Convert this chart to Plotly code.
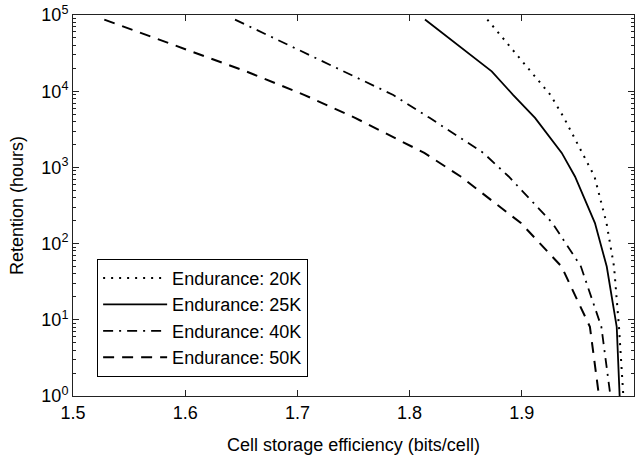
import plotly.graph_objects as go

# Retention (hours) levels
retention = [87100, 18200, 8900, 4470, 1550, 760, 186, 50, 8.1, 1]

# Cell storage efficiency (bits/cell) per endurance level
eff_20k = [1.8693, 1.9082, 1.9256, 1.9376, 1.9537, 1.9648, 1.9755, 1.9822, 1.9866, 1.9905]
eff_25k = [1.8137, 1.8732, 1.8924, 1.9118, 1.9356, 1.9474, 1.9652, 1.9757, 1.9846, 1.9872]
eff_40k = [1.6444, 1.7420, 1.7855, 1.8178, 1.8657, 1.8883, 1.9273, 1.9527, 1.9709, 1.9790]
eff_50k = [1.5279, 1.6542, 1.7064, 1.7514, 1.8131, 1.8455, 1.8992, 1.9354, 1.9607, 1.9688]

series_names = ["Endurance: 20K", "Endurance: 25K", "Endurance: 40K", "Endurance: 50K"]

x_tickvals = [1.5, 1.6, 1.7, 1.8, 1.9, 2.0]
x_ticktext = ["1.5", "1.6", "1.7", "1.8", "1.9", "2"]
y_tickvals = [1, 10, 100, 1000, 10000, 100000]
y_ticktext = ["10<sup>0</sup>", "10<sup>1</sup>", "10<sup>2</sup>", "10<sup>3</sup>",
              "10<sup>4</sup>", "10<sup>5</sup>"]

FONT = "'Liberation Sans', Arial, sans-serif"
styles = [
    dict(color="black", width=2, dash="2px,6px"),
    dict(color="black", width=1.8, dash="solid"),
    dict(color="black", width=1.8, dash="10px,6px,2px,6px"),
    dict(color="black", width=2, dash="11px,8px"),
]

fig = go.Figure()
for name, xs, st in zip(series_names, [eff_20k, eff_25k, eff_40k, eff_50k], styles):
    fig.add_trace(go.Scatter(x=xs, y=retention, mode="lines", name=name, line=st))

axis_common = dict(
    showgrid=False, zeroline=False, showline=True, linecolor="#222", linewidth=1,
    mirror="allticks", ticks="inside", tickcolor="#222",
    tickfont=dict(family=FONT, size=18, color="black"),
)

fig.update_xaxes(
    range=[1.5, 2.0], tickmode="array", tickvals=x_tickvals, ticktext=x_ticktext,
    ticklen=6, title=dict(text="Cell storage efficiency (bits/cell)",
                          font=dict(family=FONT, size=18, color="black"), standoff=16),
    **axis_common,
)
fig.update_yaxes(
    type="log", range=[0, 5], tickmode="array", tickvals=y_tickvals, ticktext=y_ticktext,
    ticklen=6, minor=dict(ticks="inside", ticklen=3, dtick="D1", tickcolor="#222"),
    title=dict(text="Retention (hours)", font=dict(family=FONT, size=18, color="black"),
               standoff=13),
    **axis_common,
)

fig.update_layout(
    width=638, height=457,
    margin=dict(l=73, r=4, t=15, b=61),
    paper_bgcolor="white", plot_bgcolor="white",
    font=dict(family=FONT, size=18, color="black"),
    yaxis2=dict(
        type="log", range=[0, 5], overlaying="y", side="right", anchor="x",
        showgrid=False, zeroline=False, showline=False, showticklabels=False,
        tickmode="array", tickvals=y_tickvals, ticks="inside", ticklen=6, tickcolor="#222",
        minor=dict(ticks="inside", ticklen=3, dtick="D1", tickcolor="#222"),
    ),
    legend=dict(
        x=0.043, y=0.36, xanchor="left", yanchor="top",
        bgcolor="white", bordercolor="black", borderwidth=1,
        font=dict(family=FONT, size=18, color="black"),
        tracegroupgap=0, itemwidth=64,
    ),
)

fig.write_html("out.html")
